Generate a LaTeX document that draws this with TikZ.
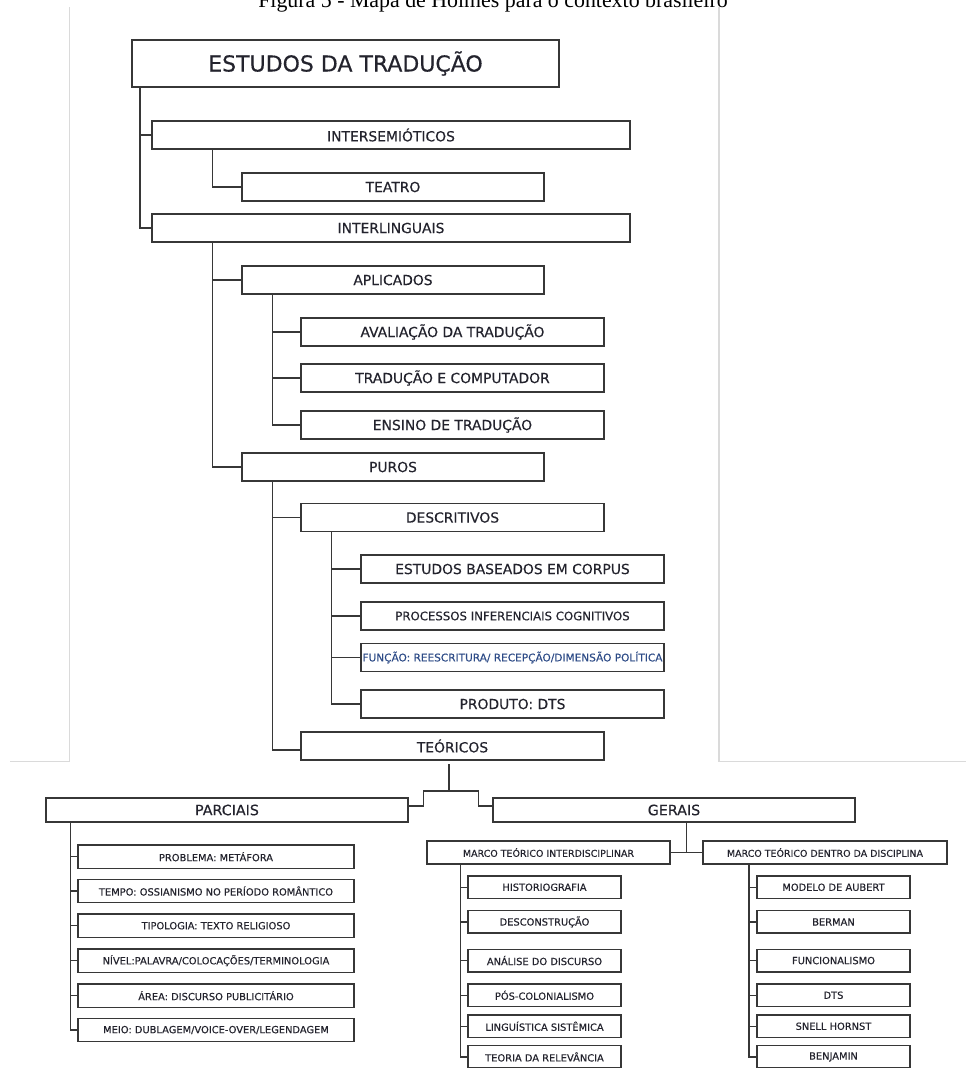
\documentclass[tikz,border=0pt]{standalone}
\usepackage{fontspec}
\newfontfamily\dejavu[FakeBold=0.35]{DejaVu Sans}
\newfontfamily\legfont{Liberation Serif}
\usepackage{tikz}
\usetikzlibrary{calc}
\usepackage{xcolor}
\definecolor{linha}{RGB}{55,55,55}
\definecolor{texto}{RGB}{35,35,45}
\definecolor{moldura}{RGB}{218,218,218}
\definecolor{azul}{RGB}{45,75,135}

\begin{document}
\begin{tikzpicture}[x=0.75pt,y=-0.75pt,
  every node/.style={inner sep=0pt, outer sep=0pt},
  box/.style={draw=linha, line width=1.1pt, fill=white, anchor=north west,
    align=center, text=texto, font=\dejavu\fontsize{10.4}{12}\selectfont},
  big/.style={box, minimum width=427*0.75pt, minimum height=47*0.75pt,
    font=\dejavu\fontsize{16.5}{19}\selectfont},
  lone/.style={box, minimum width=478*0.75pt, minimum height=28*0.75pt},
  ltwo/.style={box, minimum width=302*0.75pt, minimum height=28*0.75pt},
  lthree/.style={box, minimum width=303*0.75pt, minimum height=28*0.75pt},
  ramo/.style={box, minimum width=362*0.75pt, minimum height=24*0.75pt,
    font=\dejavu\fontsize{10.7}{12}\selectfont},
  marco/.style={box, minimum height=23*0.75pt,
    font=\dejavu\fontsize{7.1}{8}\selectfont},
  folha/.style={box, minimum width=276*0.75pt, minimum height=23.4*0.75pt,
    font=\dejavu\fontsize{7.4}{8}\selectfont},
  folhinha/.style={box, minimum width=153*0.75pt, minimum height=22.5*0.75pt,
    font=\dejavu\fontsize{7.4}{8}\selectfont},
  liga/.style={draw=linha, line width=1.1pt},
  borda/.style={draw=moldura, line width=0.8pt}
  ]
  \useasboundingbox (0,0) rectangle (966,1068);
  \clip (0,0) rectangle (966,1068);
  \fill[white] (0,0) rectangle (966,1068);

  % legenda cortada no topo
  \node[anchor=base, font=\legfont\fontsize{16.4}{19}\selectfont] (legenda) at (493,7)
    {Figura 5 - Mapa de Holmes para o contexto brasileiro};
  \draw[borda] (69.5,7) -- (69.5,761.5) -- (10,761.5);
  \draw[borda] (719,7) -- (719,761.5) -- (966,761.5);

  % parte de cima
  \node[big] (raiz) at (132,40) {ESTUDOS DA TRADUÇÃO};
  \node[lone] (intersem) at (152,121) {INTERSEMIÓTICOS};
  \node[ltwo] (teatro) at (242,173) {TEATRO};
  \node[lone] (interling) at (152,214) {INTERLINGUAIS};
  \node[ltwo] (aplic) at (242,266) {APLICADOS};
  \node[lthree] (aval) at (301,318) {AVALIAÇÃO DA TRADUÇÃO};
  \node[lthree] (comp) at (301,364) {TRADUÇÃO E COMPUTADOR};
  \node[lthree] (ensino) at (301,411) {ENSINO DE TRADUÇÃO};
  \node[ltwo] (puros) at (242,453) {PUROS};
  \node[lthree] (descr) at (301,503.5) {DESCRITIVOS};
  \node[lthree] (corpus) at (361,555) {ESTUDOS BASEADOS EM CORPUS};
  \node[lthree, font=\dejavu\fontsize{8.8}{10}\selectfont] (proc) at (361,602)
    {PROCESSOS INFERENCIAIS COGNITIVOS};
  \node[lthree, font=\dejavu\fontsize{7.9}{9}\selectfont, text=azul] (funcao) at (361,643.5)
    {FUNÇÃO: REESCRITURA/ RECEPÇÃO/DIMENSÃO POLÍTICA};
  \node[lthree] (produto) at (361,690) {PRODUTO: DTS};
  \node[lthree] (teor) at (301,732) {TEÓRICOS};

  \draw[liga] ([xshift=6pt]raiz.south west) |- (intersem.west);
  \draw[liga] ([xshift=6pt]raiz.south west) |- (interling.west);
  \draw[liga] ([xshift=45.5pt]intersem.south west) |- (teatro.west);
  \foreach \f in {aplic,puros}
    \draw[liga] ([xshift=45.5pt]interling.south west) |- (\f.west);
  \foreach \f in {aval,comp,ensino}
    \draw[liga] ([xshift=22.7pt]aplic.south west) |- (\f.west);
  \draw[liga] ([xshift=22.7pt]puros.south west) |- (descr.west);
  \draw[liga] ([xshift=22.7pt]puros.south west) |- ([yshift=-3pt]teor.west);
  \foreach \f in {corpus,proc,funcao,produto}
    \draw[liga] ([xshift=23pt]descr.south west) |- (\f.west);

  % parte de baixo
  \node[ramo] (parc) at (46,798) {PARCIAIS};
  \node[ramo] (gerais) at (493,798) {GERAIS};
  \node[marco, minimum width=243*0.75pt] (inter) at (427,841) {MARCO TEÓRICO INTERDISCIPLINAR};
  \node[marco, minimum width=244*0.75pt] (dentro) at (703,841) {MARCO TEÓRICO DENTRO DA DISCIPLINA};

  \node[folha] (prob) at (78,845) {PROBLEMA: METÁFORA};
  \node[folha] (tempo) at (78,879.3) {TEMPO: OSSIANISMO NO PERÍODO ROMÂNTICO};
  \node[folha] (tipo) at (78,914) {TIPOLOGIA: TEXTO RELIGIOSO};
  \node[folha] (nivel) at (78,949) {NÍVEL:PALAVRA/COLOCAÇÕES/TERMINOLOGIA};
  \node[folha] (area) at (78,984) {ÁREA: DISCURSO PUBLICITÁRIO};
  \node[folha] (meio) at (78,1018.3) {MEIO: DUBLAGEM/VOICE-OVER/LEGENDAGEM};

  \node[folhinha] (hist) at (468,876) {HISTORIOGRAFIA};
  \node[folhinha] (desc) at (468,910.7) {DESCONSTRUÇÃO};
  \node[folhinha] (anal) at (468,949.3) {ANÁLISE DO DISCURSO};
  \node[folhinha] (pos) at (468,984) {PÓS-COLONIALISMO};
  \node[folhinha] (ling) at (468,1015) {LINGUÍSTICA SISTÊMICA};
  \node[folhinha] (relev) at (468,1045.7) {TEORIA DA RELEVÂNCIA};

  \node[folhinha] (aubert) at (757,876) {MODELO DE AUBERT};
  \node[folhinha] (berman) at (757,910.7) {BERMAN};
  \node[folhinha] (func) at (757,949.3) {FUNCIONALISMO};
  \node[folhinha] (dts) at (757,984) {DTS};
  \node[folhinha] (snell) at (757,1015) {SNELL HORNST};
  \node[folhinha] (benj) at (757,1045.7) {BENJAMIN};

  \coordinate (split) at (449,791);
  \draw[liga] ([yshift=-3pt]teor.south -| split) -- (split);
  \draw[liga] ([yshift=3pt]parc.east) -| ([xshift=-19pt]split) -- ([xshift=22pt]split)
    |- ([yshift=3pt]gerais.west);
  \coordinate (juncao) at ($(inter.east)!0.5!(dentro.west)$);
  \draw[liga] (inter.east) -- (dentro.west);
  \draw[liga] (gerais.south -| juncao) -- (juncao);
  \foreach \f in {prob,tempo,tipo,nivel,area,meio}
    \draw[liga] ([xshift=18.4pt]parc.south west) |- (\f.west);
  \foreach \f in {hist,desc,anal,pos,ling,relev}
    \draw[liga] ([xshift=25pt]inter.south west) |- (\f.west);
  \foreach \f in {aubert,berman,func,dts,snell,benj}
    \draw[liga] ([xshift=34.5pt]dentro.south west) |- (\f.west);
\end{tikzpicture}
\end{document}
